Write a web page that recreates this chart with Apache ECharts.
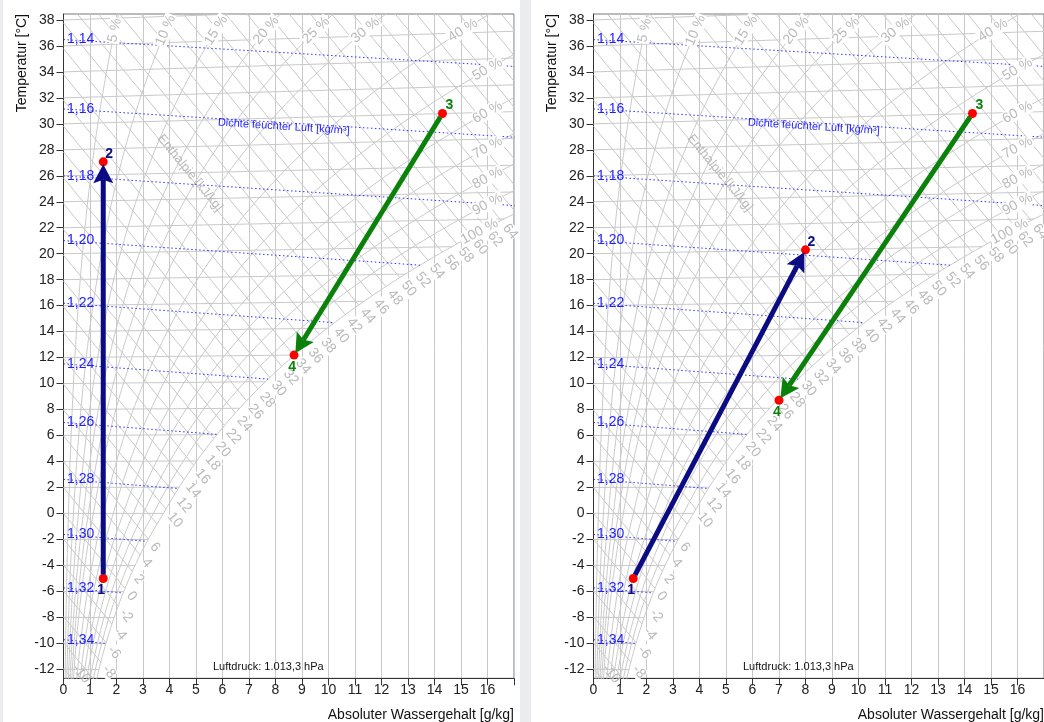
<!DOCTYPE html>
<html><head><meta charset="utf-8">
<script src="https://cdn.jsdelivr.net/npm/echarts@6/dist/echarts.min.js"></script>
<style>
html,body{margin:0;padding:0;background:#ebecee;}
#c{width:1044px;height:722px;}
</style></head><body><div id="c"></div>
<script>
// ---------------- data ----------------
const xTicks = [0,1,2,3,4,5,6,7,8,9,10,11,12,13,14,15,16];
const tempTicks = [-12,-10,-8,-6,-4,-2,0,2,4,6,8,10,12,14,16,18,20,22,24,26,28,30,32,34,36,38];
const isotherms = [-12,-10,-8,-6,-4,-2,0,2,4,6,8,10,12,14,16,18,20,22,24,26,28,30,32,34,36,38];
const rhLevels = [5,10,15,20,25,30,40,50,60,70,80,90,100];
const rhLabels = ['5 %','10 %','15 %','20 %','25 %','30 %','40 %','50 %','60 %','70 %','80 %','90 %','100 %'];
const enthalpyLines = [-16,-14,-12,-10,-8,-6,-4,-2,0,2,4,6,8,10,12,14,16,18,20,22,24,26,28,30,32,34,36,38,40,42,44,46,48,50,52,54,56,58,60,62,64,66,68,70,72,74,76,78,80,82,84];
const enthalpyLabels = [-12,-10,-8,-6,-4,-2,0,2,4,6,10,12,14,16,18,20,22,24,26,28,30,32,34,36,38,40,42,44,46,48,50,52,54,56,58,60,62,64];
const densityLevels = [1.14,1.16,1.18,1.20,1.22,1.24,1.26,1.28,1.30,1.32,1.34];
const densityLabels = ['1,14','1,16','1,18','1,20','1,22','1,24','1,26','1,28','1,30','1,32','1,34'];
const pointNames = ['1','2','3','4'];
const leftX = [1.5, 1.5, 14.3, 8.7];      // g/kg
const leftT = [-5, 27, 30, 12];           // °C
const rightX = [1.5, 8.0, 14.3, 7.0];
const rightT = [-5, 20, 30, 8.6];
const airPressure = 1013.25;              // hPa
const pressureText = 'Luftdruck: 1.013,3 hPa';
const densityTitle = 'Dichte feuchter Luft [kg/m³]';
const enthalpyTitle = 'Enthalpie [kJ/kg]';
const xName = 'Absoluter Wassergehalt [g/kg]';
const yName = 'Temperatur [°C]';

// ---------------- psychrometrics (chart coordinate system) ----------------
const Ra = 287.05, Rv = 461.5;
function ps(t){ return t >= 0 ? 6.112*Math.exp(17.62*t/(243.12+t)) : 6.112*Math.exp(22.46*t/(272.62+t)); }
function xw(t, phi){ const p = phi*ps(t); return 622*p/(airPressure - p); }
function Yc(t, x){ return t*(1 + 1.86*x/1006); }
function hOf(t, x){ return 1.006*t + x*(2501 + 1.86*t)/1000; }
function bisect(f, lo, hi){ for(let i=0;i<70;i++){ const m=(lo+hi)/2; if(f(m)<0) lo=m; else hi=m; } return (lo+hi)/2; }
function tSatOfH(h){ return bisect(t => hOf(t, xw(t,1)) - h, -45, 70); }
function tOfRho(rho, x){ const k = x/1000; return airPressure*100*(1+k)/(rho*(Ra + k*Rv)) - 273.15; }

// ---------------- layout ----------------
const TOP = 14, W = 450.5, H = 664.3;
const XMIN = 0, XMAX = 17, YMIN = -12.7, YMAX = 38.46;
const PX_X = W/(XMAX-XMIN), PX_Y = H/(YMAX-YMIN);
const LEFTS = [63.5, 593.5];
const GRIDC = '#c9c9c9', GRAYTXT = '#bababa', BLUE = '#1f1fff', DOTBLUE = '#3030ff', NAVY = '#0b0b84', GREEN = '#0a820a';
const FONT = '"Liberation Sans", Arial, Helvetica, sans-serif';
const H_ANGLE = -Math.atan2(2.501/1.006*PX_Y, PX_X)*180/Math.PI;
const pointLabelOffset = {'1':[-2,12], '2':[6,-8], '3':[7,-8], '4':[-2,12]};
const pointColor = {'1':NAVY, '2':NAVY, '3':GREEN, '4':GREEN};

function lineS(gi, data, style, z){
  return {type:'line', xAxisIndex:gi, yAxisIndex:gi, data, symbol:'none', silent:true, clip:true,
          lineStyle:style, z:z||1, animation:false};
}
function labelS(gi, items, z, clip){
  return {type:'scatter', xAxisIndex:gi, yAxisIndex:gi, silent:true, animation:false, clip: clip!==false,
          symbol:'circle', symbolSize:1, itemStyle:{color:'rgba(0,0,0,0)', opacity:1}, z:z||3, data:items};
}

function panelSeries(gi, px, pt){
  const s = [];
  // isotherms
  isotherms.forEach(t => {
    const xs = xw(t,1);
    s.push(lineS(gi, [[0, Yc(t,0)], [xs, Yc(t,xs)]], {color:GRIDC, width:1}));
  });
  // enthalpy lines
  enthalpyLines.forEach(h => {
    const ts = tSatOfH(h), xs = xw(ts,1);
    s.push(lineS(gi, [[0, h/1.006], [xs, Yc(ts,xs)]], {color:GRIDC, width:1}));
  });
  // relative humidity curves
  rhLevels.forEach(r => {
    const phi = r/100, d = [];
    for (let t=-16; t<=44; t+=0.25){
      const x = xw(t,phi);
      d.push([x, Yc(t,x)]);
      if (x > 18) break;
    }
    s.push(lineS(gi, d, {color:GRIDC, width:1}));
  });
  // density lines
  densityLevels.forEach(rho => {
    const xe = bisect(x => x - xw(tOfRho(rho,x),1), 0, 40);
    const d = [];
    for (let x=0; x<xe; x+=0.5) d.push([x, Yc(tOfRho(rho,x), x)]);
    d.push([xe, Yc(tOfRho(rho,xe), xe)]);
    s.push(lineS(gi, d, {color:DOTBLUE, width:1, type:[1.5,2.5]}, 2));
  });
  // enthalpy labels
  const hItems = [];
  const ux = Math.cos(H_ANGLE*Math.PI/180), uy = -Math.sin(H_ANGLE*Math.PI/180);
  enthalpyLabels.forEach(h => {
    const ts = tSatOfH(h), xs = xw(ts,1), Ys = Yc(ts,xs);
    let pos;
    if (Ys < YMIN + 0.6){
      const Yb = YMIN + 0.35;
      pos = [(h - 1.006*Yb)/2.501 - 8/PX_X, Yb];
      hItems.push({value:pos, label:{show:true, formatter:String(h), position:'inside', align:'center', verticalAlign:'middle',
        rotate:H_ANGLE, color:GRAYTXT, fontSize:14, fontFamily:FONT}});
    } else {
      pos = [xs + 6.5*ux/PX_X, Ys - 6.5*uy/PX_Y];
      hItems.push({value:pos, label:{show:true, formatter:String(h), position:'inside', align:'left', verticalAlign:'middle',
        rotate:H_ANGLE, color:GRAYTXT, fontSize:14, fontFamily:FONT, backgroundColor:'#fff'}});
    }
  });
  s.push(labelS(gi, hItems, 3));
  // RH labels
  const rItems = [];
  rhLevels.forEach((r, i) => {
    const phi = r/100;
    let t;
    if (r <= 40) t = bisect(tt => Yc(tt, xw(tt,phi)) - 37.2, -20, 60);
    else t = bisect(tt => xw(tt,phi) - (r === 100 ? 15.7 : 16.0), -20, 60);
    const x = xw(t,phi), Y = Yc(t,x);
    const x1 = xw(t-0.2,phi), x2 = xw(t+0.2,phi);
    const ang = Math.atan2((Yc(t+0.2,x2)-Yc(t-0.2,x1))*PX_Y, (x2-x1)*PX_X)*180/Math.PI;
    rItems.push({value:[x,Y], label:{show:true, formatter:rhLabels[i], position:'inside', align:'center', verticalAlign:'middle',
      rotate:ang, color:GRAYTXT, fontSize:14, fontFamily:FONT, backgroundColor:'#fff', padding:[0,1]}});
  });
  s.push(labelS(gi, rItems, 3));
  // density labels
  const dItems = densityLevels.map((rho, i) => ({value:[0, Yc(tOfRho(rho,0),0)],
    label:{show:true, formatter:densityLabels[i], position:'right', distance:3, color:BLUE, fontSize:14, fontFamily:FONT}}));
  // density title along 1,16
  const xt = 8.32, tt = tOfRho(densityLevels[1], xt);
  const tt2 = tOfRho(densityLevels[1], xt+1);
  const dAng = Math.atan2((Yc(tt2,xt+1)-Yc(tt,xt))*PX_Y, PX_X)*180/Math.PI;
  dItems.push({value:[xt, Yc(tt,xt)], label:{show:true, formatter:densityTitle, position:'inside', offset:[0,4],
    rotate:dAng, color:BLUE, fontSize:11, fontFamily:FONT}});
  s.push(labelS(gi, dItems, 4, false));
  // enthalpy title
  const ex = 4.77, eh = 38.3;
  s.push(labelS(gi, [{value:[ex, (eh-2.501*ex)/1.006], label:{show:true, formatter:enthalpyTitle, position:'inside',
    rotate:H_ANGLE, color:GRAYTXT, fontSize:13, fontFamily:FONT}}], 3));

  // process arrows 1->2 (navy) and 3->4 (green)
  const P = px.map((x,i) => [x, Yc(pt[i], x)]);
  [[0,1,NAVY],[2,3,GREEN]].forEach(([a,b,col]) => {
    s.push({type:'custom', xAxisIndex:gi, yAxisIndex:gi, silent:true, animation:false, z:6,
      data:[[P[a][0],P[a][1],P[b][0],P[b][1]]],
      renderItem:(params, api) => {
        const A = api.coord([api.value(0), api.value(1)]), B = api.coord([api.value(2), api.value(3)]);
        const dx = B[0]-A[0], dy = B[1]-A[1], L = Math.hypot(dx,dy), ux = dx/L, uy = dy/L;
        const st = [A[0]+ux*4, A[1]+uy*4], tip = [B[0]-ux*2.5, B[1]-uy*2.5];
        const HL = 19, HW = 10, N = 3.5;
        const base = [tip[0]-ux*HL, tip[1]-uy*HL], notch = [tip[0]-ux*(HL-N), tip[1]-uy*(HL-N)];
        const nx = -uy, ny = ux;
        return {type:'group', children:[
          {type:'line', shape:{x1:st[0], y1:st[1], x2:notch[0], y2:notch[1]}, style:{stroke:col, lineWidth:5}},
          {type:'polygon', shape:{points:[tip, [base[0]+nx*HW, base[1]+ny*HW], notch, [base[0]-nx*HW, base[1]-ny*HW]]}, style:{fill:col}}
        ]};
      }});
  });
  // state points
  s.push({type:'scatter', xAxisIndex:gi, yAxisIndex:gi, silent:true, animation:false, z:5, symbolSize:9,
    itemStyle:{color:'#ff0000', opacity:1},
    data: P.map((p,i) => ({value:p, label:{show:true, formatter:pointNames[i], position:'inside', offset:pointLabelOffset[pointNames[i]],
      color:pointColor[pointNames[i]], fontWeight:'bold', fontSize:14, fontFamily:FONT}}))});
  return s;
}

const grids = LEFTS.map(l => ({left:l, top:TOP, width:W, height:H, show:true, borderColor:'#777', borderWidth:1, backgroundColor:'transparent'}));
const xAxes = LEFTS.map((l,i) => ({type:'value', gridIndex:i, min:XMIN, max:XMAX, interval:1,
  axisLine:{show:true, onZero:false, lineStyle:{color:'#333', width:1}},
  axisTick:{show:true, length:7, lineStyle:{color:'#333'}},
  axisLabel:{customValues:xTicks, fontSize:14, color:'#222', margin:5, fontFamily:FONT},
  splitLine:{show:true, lineStyle:{color:GRIDC, width:1}}}));
const yAxes = LEFTS.map((l,i) => ({type:'value', gridIndex:i, min:YMIN, max:YMAX,
  axisLine:{show:true, onZero:false, lineStyle:{color:'#333', width:1}},
  axisTick:{show:true, length:7, customValues:tempTicks, lineStyle:{color:'#333'}},
  axisLabel:{customValues:tempTicks, fontSize:14, color:'#222', margin:9, fontFamily:FONT},
  splitLine:{show:false}}));

const graphics = [
  {type:'rect', shape:{x:3, y:0, width:517, height:722}, style:{fill:'#fff'}, z:-100},
  {type:'rect', shape:{x:531, y:0, width:513, height:722}, style:{fill:'#fff'}, z:-100}
];
LEFTS.forEach(l => {
  graphics.push({type:'text', x:l-41.5, y:TOP, rotation:Math.PI/2, z:100,
    style:{text:yName, fontSize:14, fontFamily:FONT, fill:'#111', textAlign:'right', textVerticalAlign:'middle'}});
  graphics.push({type:'text', x:l+W, y:715, z:100,
    style:{text:xName, fontSize:14, fontFamily:FONT, fill:'#111', textAlign:'right', textVerticalAlign:'middle'}});
  graphics.push({type:'text', x:l+149.5, y:TOP+H-11, z:100,
    style:{text:pressureText, fontSize:11, fontFamily:FONT, fill:'#111', textAlign:'left', textVerticalAlign:'middle'}});
});

let series = [];
series = series.concat(panelSeries(0, leftX, leftT));
series = series.concat(panelSeries(1, rightX, rightT));

const chart = echarts.init(document.getElementById('c'), null, {renderer:'canvas'});
chart.setOption({animation:false, grid:grids, xAxis:xAxes, yAxis:yAxes, graphic:graphics, series});
</script></body></html>
